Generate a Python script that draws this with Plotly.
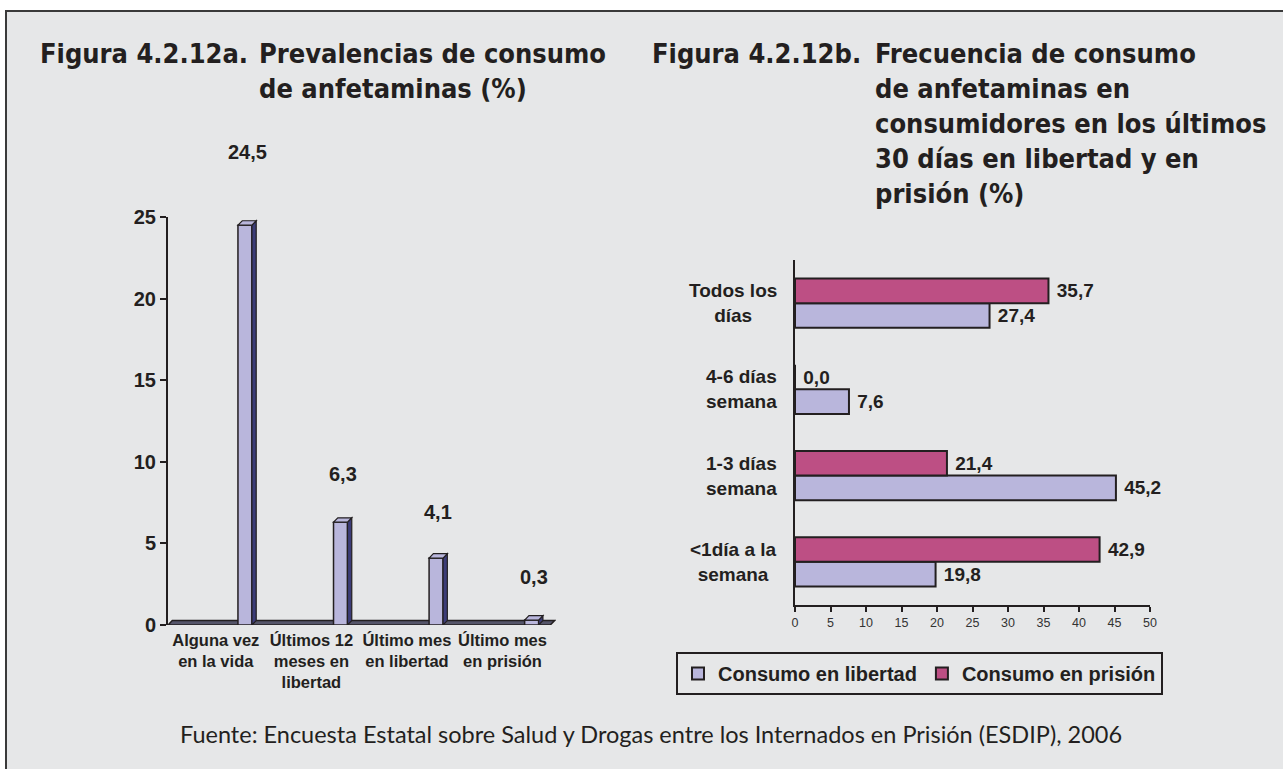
import plotly.graph_objects as go

# ---------------- data ----------------
CATS_A = ["Alguna vez<br>en la vida", "Últimos 12<br>meses en<br>libertad",
          "Último mes<br>en libertad", "Último mes<br>en prisión"]
VALS_A = [24.5, 6.3, 4.1, 0.3]
Y_TICKS_A = [0, 5, 10, 15, 20, 25]

CATS_B = ["Todos los<br>días", "4-6 días<br>semana", "1-3 días<br>semana", "&lt;1día a la<br>semana"]
LIBERTAD = [27.4, 7.6, 45.2, 19.8]
PRISION = [35.7, 0.0, 21.4, 42.9]
X_TICKS_B = [0, 5, 10, 15, 20, 25, 30, 35, 40, 45, 50]

TITLE_A_NUM = "Figura 4.2.12a."
TITLE_A = "Prevalencias de consumo<br>de anfetaminas (%)"
TITLE_B_NUM = "Figura 4.2.12b."
TITLE_B = ("Frecuencia de consumo<br>de anfetaminas en<br>consumidores en los últimos"
           "<br>30 días en libertad y en<br>prisión (%)")
SOURCE = "Fuente: Encuesta Estatal sobre Salud y Drogas entre los Internados en Prisión (ESDIP), 2006"

# ---------------- style ----------------
W, H = 1283, 769
BG = "#e6e7e8"
INK = "#231f20"
LAV = "#b9b6dc"
PINK = "#bd4f84"
SIDE = "#3c3c78"
FLOOR = "#55556a"
BOLD = "Liberation Sans, Arial, sans-serif"
TITLE_FONT = "DejaVu Sans Condensed, Liberation Sans Narrow, Arial Narrow, sans-serif"


def px(x):
    return x / W


def py(y):
    return 1 - y / H


def fmt(v):
    return f"{v:.1f}".replace(".", ",")


BAR_OFF, BAR_W, DX, DY = 0.232, 0.146, 0.045, 0.27
LABEL_SHIFT_A = [60, 35, 33, 30]

fig = go.Figure()

# ---- left: 3D-like column chart ----
fig.add_trace(go.Bar(
    x=list(range(len(VALS_A))), y=VALS_A, offset=BAR_OFF, width=BAR_W,
    marker=dict(color=LAV, line=dict(color=INK, width=1.5)),
    xaxis="x", yaxis="y", showlegend=False, hoverinfo="skip"))

shapes = []
shapes.append(dict(type="rect", xref="paper", yref="paper",
                   x0=px(6), x1=1.05, y0=-0.05, y1=py(11),
                   fillcolor=BG, line=dict(color="#3a3a3a", width=2), layer="below"))
n = len(VALS_A)
shapes.append(dict(type="path", xref="x", yref="y", layer="below",
                   path=f"M-0.5,0 L{n - 0.5},0 L{n - 0.5 + DX},{DY} L{-0.5 + DX},{DY} Z",
                   fillcolor=FLOOR, line=dict(color=INK, width=1.5)))
annotations = []
for i, v in enumerate(VALS_A):
    x0 = i + BAR_OFF
    x1 = x0 + BAR_W
    shapes.append(dict(type="path", xref="x", yref="y",
                       path=f"M{x1},0 L{x1 + DX},{DY} L{x1 + DX},{v + DY} L{x1},{v} Z",
                       fillcolor=SIDE, line=dict(color=INK, width=1.2)))
    shapes.append(dict(type="path", xref="x", yref="y",
                       path=f"M{x0},{v} L{x1},{v} L{x1 + DX},{v + DY} L{x0 + DX},{v + DY} Z",
                       fillcolor=LAV, line=dict(color=INK, width=1.2)))
    annotations.append(dict(xref="x", yref="y", x=x0 + (BAR_W + DX) / 2, y=v,
                            text=fmt(v), showarrow=False, yanchor="bottom",
                            yshift=LABEL_SHIFT_A[i],
                            font=dict(family=BOLD, size=20, color=INK, weight=700)))

# ---- right: horizontal grouped bars ----
NBSP = "\u00a0"
fig.add_trace(go.Bar(
    y=CATS_B, x=LIBERTAD, orientation="h", name="Consumo en libertad",
    marker=dict(color=LAV, line=dict(color=INK, width=2)),
    text=[NBSP + fmt(v) for v in LIBERTAD], textposition="outside", cliponaxis=False,
    textfont=dict(family=BOLD, size=19, color=INK, weight=700),
    xaxis="x2", yaxis="y2", hoverinfo="skip"))
fig.add_trace(go.Bar(
    y=CATS_B, x=PRISION, orientation="h", name="Consumo en prisión",
    marker=dict(color=PINK, line=dict(color=INK, width=2)),
    text=[NBSP + fmt(v) for v in PRISION], textposition="outside", cliponaxis=False,
    textfont=dict(family=BOLD, size=19, color=INK, weight=700),
    xaxis="x2", yaxis="y2", hoverinfo="skip"))

for c in CATS_B:
    annotations.append(dict(xref="paper", yref="y2", x=px(779), y=c, text=c,
                            showarrow=False, xanchor="right", yanchor="middle", align="center",
                            font=dict(family=BOLD, size=19, color=INK, weight=700)))

# ---- titles and source ----
tfont = dict(family=TITLE_FONT, size=27, color=INK, weight=700)
TITLE_TOP = 36
annotations += [
    dict(xref="paper", yref="paper", x=px(38), y=py(TITLE_TOP), text=TITLE_A_NUM, showarrow=False,
         xanchor="left", yanchor="top", align="left", font=tfont),
    dict(xref="paper", yref="paper", x=px(257), y=py(TITLE_TOP), text=TITLE_A, showarrow=False,
         xanchor="left", yanchor="top", align="left", font=tfont),
    dict(xref="paper", yref="paper", x=px(650), y=py(TITLE_TOP), text=TITLE_B_NUM, showarrow=False,
         xanchor="left", yanchor="top", align="left", font=tfont),
    dict(xref="paper", yref="paper", x=px(873), y=py(TITLE_TOP), text=TITLE_B, showarrow=False,
         xanchor="left", yanchor="top", align="left", font=tfont),
    dict(xref="paper", yref="paper", x=px(651), y=py(734), text=SOURCE, showarrow=False,
         xanchor="center", yanchor="middle",
         font=dict(family="Lato, Open Sans, sans-serif", size=23.5, color=INK, weight=400)),
]

fig.update_layout(
    template="none",
    width=W, height=H, margin=dict(l=0, r=0, t=0, b=0, autoexpand=False),
    paper_bgcolor="white", plot_bgcolor="rgba(0,0,0,0)",
    barmode="group", bargap=0.43, bargroupgap=0,
    shapes=shapes, annotations=annotations,
    xaxis=dict(domain=[px(168), px(556)], range=[-0.5, n - 0.5 + 0.06],
               tickvals=list(range(n)), ticktext=CATS_A, showline=False, automargin=False,
               showgrid=False, zeroline=False, ticks="", ticklabelstandoff=3,
               tickfont=dict(family=BOLD, size=16.5, color=INK, weight=700)),
    yaxis=dict(domain=[py(625), py(217)], range=[0, Y_TICKS_A[-1]], tickvals=Y_TICKS_A,
               showline=True, linecolor=INK, linewidth=2, ticks="outside", ticklen=6,
               tickwidth=1.5, tickcolor=INK, showgrid=False, zeroline=False, automargin=False,
               tickfont=dict(family=BOLD, size=20, color=INK, weight=700)),
    xaxis2=dict(domain=[px(795), px(1150)], range=[X_TICKS_B[0], X_TICKS_B[-1]],
                tickvals=X_TICKS_B, anchor="y2", showline=True, linecolor=INK, linewidth=2,
                ticks="outside", ticklen=5, tickwidth=1.5, tickcolor=INK, showgrid=False,
                zeroline=False, automargin=False,
                tickfont=dict(family=BOLD, size=12.5, color="#333333")),
    yaxis2=dict(domain=[py(605), py(260)], anchor="x2", categoryorder="array",
                categoryarray=CATS_B[::-1], showline=True, linecolor=INK, linewidth=2,
                ticks="", showticklabels=False, showgrid=False, zeroline=False, automargin=False),
    legend=dict(orientation="h", x=px(676), y=py(652), xanchor="left", yanchor="top",
                bordercolor=INK, borderwidth=2, bgcolor="rgba(0,0,0,0)",
                font=dict(family=BOLD, size=20, color=INK, weight=700),
                traceorder="normal", itemclick=False),
    showlegend=True,
)

fig.write_html("out.html", config={"displayModeBar": False},
               post_script="document.body.style.margin='0';")
